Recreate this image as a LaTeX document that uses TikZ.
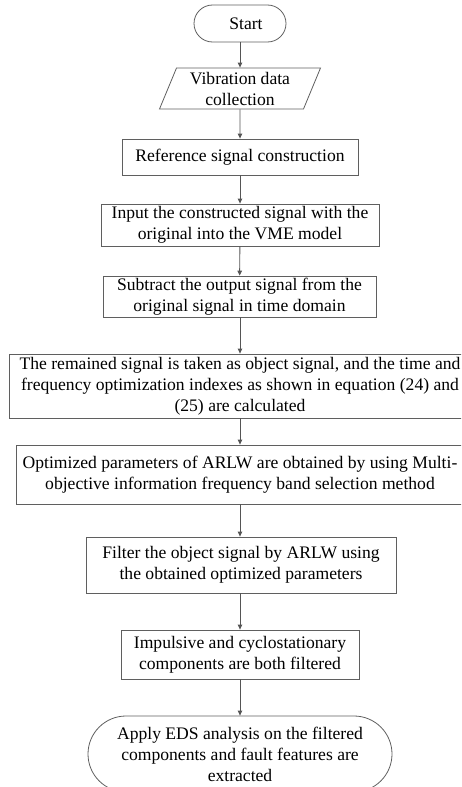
\documentclass[tikz,border=0pt]{standalone}
\usepackage{fontspec}
\setmainfont{Liberation Serif}
\usetikzlibrary{shapes.geometric,arrows.meta}
\begin{document}
\begin{tikzpicture}[x=1pt,y=-1pt,
  every node/.style={font=\fontsize{17.6}{21}\selectfont, align=center, inner sep=0pt, draw=linegray, line width=0.8pt},
  procbox/.style={rectangle},
  terminal/.style={rectangle, rounded corners=#1},
  arr/.style={draw=arrowgray, line width=0.9pt, -{Triangle[length=5pt,width=4.5pt]}}]
\definecolor{linegray}{RGB}{95,95,95}
\definecolor{arrowgray}{RGB}{85,85,85}
\clip (0,0) rectangle (461,787);

\node[terminal=18.5pt, minimum width=92pt, minimum height=37pt] (start) at (240,23.5) {\hspace{12pt}Start};
\node[trapezium, trapezium left angle=63, trapezium right angle=117, trapezium stretches body,
      minimum width=161pt, minimum height=41pt] (collect) at (240,88.5) {Vibration data\\collection};
\node[procbox, minimum width=236pt, minimum height=36pt] (refsig) at (240,157) {Reference signal construction};
\node[procbox, minimum width=278pt, minimum height=42pt] (vme) at (240,225) {Input the constructed signal with the\\original into the VME model};
\node[procbox, minimum width=273pt, minimum height=41pt] (subtr) at (239.5,296.5) {Subtract the output signal from the\\original signal in time domain};
\node[procbox, minimum width=462pt, minimum height=64pt] (remain) at (240,386) {The remained signal is taken as object signal, and the time and\\frequency optimization indexes as shown in equation (24) and\\(25) are calculated};
\node[procbox, minimum width=448pt, minimum height=59pt] (optim) at (240,474.5) {Optimized parameters of ARLW are obtained by using Multi-\\objective information frequency band selection method};
\node[procbox, minimum width=310pt, minimum height=56pt] (filt) at (241,565) {Filter the object signal by ARLW using\\the obtained optimized parameters};
\node[procbox, minimum width=238pt, minimum height=49pt] (compon) at (240,654.5) {Impulsive and cyclostationary\\components are both filtered};
\node[terminal=38pt, minimum width=304pt, minimum height=76pt] (eds) at (240,754) {Apply EDS analysis on the filtered\\components and fault features are\\extracted};

\draw[arr] (start) -- (collect);
\draw[arr] (collect) -- (refsig);
\draw[arr] (refsig) -- (vme);
\draw[arr] (vme) -- (subtr);
\draw[arr] (subtr.south -| remain.north) -- (remain);
\draw[arr] (remain) -- (optim);
\draw[arr] (optim) -- (optim.south |- filt.north);
\draw[arr] (filt.south -| compon.north) -- (compon);
\draw[arr] (compon) -- (eds);
\end{tikzpicture}
\end{document}
